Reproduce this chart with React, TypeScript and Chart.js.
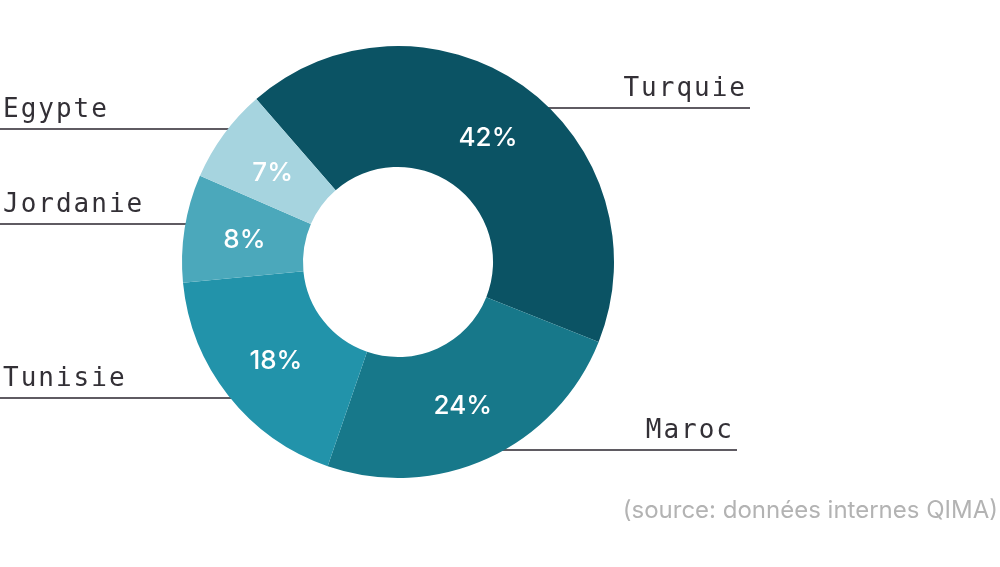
import React, { useEffect, useRef } from 'react';
import { Chart, ArcElement, DoughnutController } from 'chart.js';

Chart.register(ArcElement, DoughnutController);

// ---- data ----
const countries = ['Turquie', 'Maroc', 'Tunisie', 'Jordanie', 'Egypte'];
const shares = [42, 24, 18, 8, 7];
const percentLabels = ['42%', '24%', '18%', '8%', '7%'];
const sourceNote = '(source: données internes QIMA)';

// ---- styles / layout ----
const colors = ['#0b5364', '#17788a', '#2293aa', '#4ba8bb', '#a6d4df'];
const labelSide = ['right', 'right', 'left', 'left', 'left'];
// vertical position of each leader line, in units of the outer radius from the centre
const leaderDy = [-0.713, 0.87, 0.63, -0.176, -0.616];
// right end of right-side leader lines, px from centre
const rightLineEnd = [352, 339, 0, 0, 0];

const labelPlugin = {
  id: 'countryLabels',
  beforeDatasetsDraw(chart: any) {
    const ctx = chart.ctx;
    const arc = chart.getDatasetMeta(0).data[0];
    const { x: cx, y: cy, outerRadius: R } = arc.getProps(['x', 'y', 'outerRadius'], true);
    ctx.save();
    ctx.strokeStyle = '#5f5b62';
    ctx.lineWidth = 2;
    countries.forEach((_, i) => {
      const dy = leaderDy[i] * R;
      const y = cy + dy;
      const half = Math.sqrt(Math.max(0, R * R - dy * dy));
      let x0: number, x1: number;
      if (labelSide[i] === 'right') {
        x0 = cx + half - 6;
        x1 = cx + rightLineEnd[i];
      } else {
        x0 = cx - half + 6;
        x1 = 0;
      }
      ctx.beginPath();
      ctx.moveTo(x0, y);
      ctx.lineTo(x1, y);
      ctx.stroke();
    });
    ctx.restore();
  },
  afterDatasetsDraw(chart: any) {
    const ctx = chart.ctx;
    const meta = chart.getDatasetMeta(0);
    const arc0 = meta.data[0];
    const { x: cx, y: cy, outerRadius: R } = arc0.getProps(['x', 'y', 'outerRadius'], true);

    // percentages inside slices
    ctx.save();
    ctx.fillStyle = '#ffffff';
    ctx.font = '500 26px Inter, "Noto Sans", sans-serif';
    ctx.textAlign = 'center';
    ctx.textBaseline = 'middle';
    meta.data.forEach((arc: any, i: number) => {
      const p = arc.tooltipPosition(true);
      ctx.fillText(percentLabels[i], p.x, p.y + 3);
    });
    ctx.restore();

    // country labels
    ctx.save();
    ctx.fillStyle = '#333036';
    ctx.font = '26px "DejaVu Sans Mono", "Liberation Mono", monospace';
    (ctx as any).letterSpacing = '2px';
    ctx.textBaseline = 'alphabetic';
    countries.forEach((name, i) => {
      const y = cy + leaderDy[i] * R - 12;
      if (labelSide[i] === 'right') {
        ctx.textAlign = 'right';
        ctx.fillText(name, cx + rightLineEnd[i] - 3, y);
      } else {
        ctx.textAlign = 'left';
        ctx.fillText(name, 3, y);
      }
    });
    ctx.restore();

    // source note
    ctx.save();
    ctx.fillStyle = '#b3b3b3';
    ctx.font = '24px Inter, "Noto Sans", sans-serif';
    ctx.textAlign = 'right';
    ctx.textBaseline = 'alphabetic';
    ctx.fillText(sourceNote, chart.width - 2, 518);
    ctx.restore();
  },
};

export default function App() {
  const ref = useRef<HTMLCanvasElement | null>(null);
  useEffect(() => {
    document.body.style.margin = '0';
    if (!ref.current) return;
    const chart = new Chart(ref.current, {
      type: 'doughnut',
      data: {
        labels: countries,
        datasets: [
          {
            data: shares,
            backgroundColor: colors,
            borderWidth: 0,
          },
        ],
      },
      options: {
        responsive: false,
        animation: false,
        rotation: -41,
        cutout: '44%',
        layout: { padding: { top: 46, bottom: 89, left: 182, right: 386 } },
        plugins: {
          legend: { display: false },
          tooltip: { enabled: false },
        },
      },
      plugins: [labelPlugin],
    });
    return () => chart.destroy();
  }, []);
  return (
    <div style={{ width: 1000, height: 567 }}>
      <canvas ref={ref} width={1000} height={567} style={{ display: 'block' }} />
    </div>
  );
}
